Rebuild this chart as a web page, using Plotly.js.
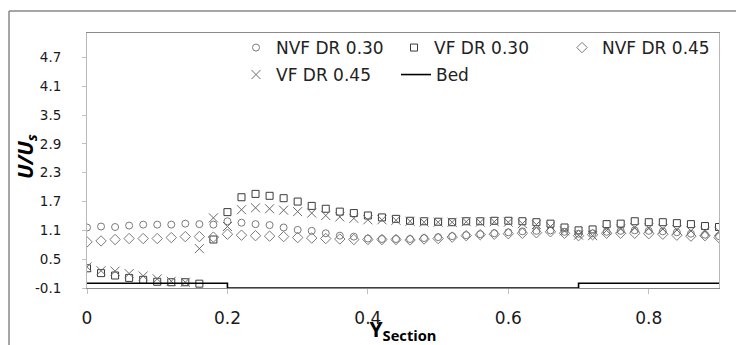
<!DOCTYPE html>
<html>
<head>
<meta charset="utf-8">
<script src="https://cdn.plot.ly/plotly-3.0.1.min.js"></script>
<style>html,body{margin:0;padding:0;background:#fff;}#chart{width:736px;height:345px;}</style>
</head>
<body>
<div id="chart"></div>
<script>
// Y_Section positions
var ySection = [0.00,0.02,0.04,0.06,0.08,0.10,0.12,0.14,0.16,0.18,
                0.20,0.22,0.24,0.26,0.28,0.30,0.32,0.34,0.36,0.38,
                0.40,0.42,0.44,0.46,0.48,0.50,0.52,0.54,0.56,0.58,
                0.60,0.62,0.64,0.66,0.68,0.70,0.72,0.74,0.76,0.78,
                0.80,0.82,0.84,0.86,0.88,0.90];

var nvf030 = [1.16,1.18,1.17,1.20,1.22,1.22,1.22,1.24,1.23,1.22,
              1.29,1.26,1.23,1.21,1.16,1.11,1.09,1.04,0.99,0.97,
              0.93,0.92,0.92,0.92,0.94,0.96,0.98,1.00,1.02,1.04,
              1.06,1.08,1.09,1.10,1.07,1.03,1.04,1.07,1.09,1.10,
              1.09,1.08,1.06,1.03,1.01,0.98];

var vf030 = [0.31,0.21,0.16,0.11,0.07,0.03,0.02,0.02,-0.01,0.91,
             1.48,1.79,1.86,1.82,1.77,1.70,1.61,1.55,1.49,1.46,
             1.41,1.37,1.34,1.30,1.29,1.28,1.27,1.29,1.29,1.30,
             1.30,1.29,1.27,1.24,1.16,1.10,1.12,1.23,1.24,1.29,
             1.27,1.27,1.25,1.23,1.19,1.17];

var nvf045 = [0.86,0.88,0.91,0.93,0.93,0.93,0.95,0.97,0.97,0.96,
              1.02,1.00,0.99,0.98,0.97,0.95,0.94,0.93,0.92,0.91,
              0.91,0.91,0.91,0.90,0.92,0.93,0.96,0.99,1.01,1.02,
              1.03,1.04,1.05,1.07,1.04,0.99,1.01,1.04,1.04,1.04,
              1.03,1.02,1.00,0.98,0.99,0.95];

var vf045 = [0.34,0.26,0.25,0.20,0.15,0.09,0.04,0.02,0.72,1.36,
             1.18,1.53,1.57,1.55,1.52,1.49,1.46,1.41,1.38,1.35,
             1.32,1.32,1.31,1.29,1.27,1.27,1.27,1.28,1.27,1.28,
             1.27,1.24,1.22,1.18,1.09,1.00,0.99,1.10,1.13,1.16,
             1.15,1.13,1.11,1.09,1.08,1.08];

var bedX = [0, 0.2, 0.2, 0.7, 0.7, 0.9];
var bedY = [0, 0, -0.1, -0.1, 0, 0];

var yTicks = [-0.1,0.5,1.1,1.7,2.3,2.9,3.5,4.1,4.7];
var yTickText = ['-0.1','0.5','1.1','1.7','2.3','2.9','3.5','4.1','4.7'];
var xTicks = [0,0.2,0.4,0.6,0.8];
var xTickText = ['0','0.2','0.4','0.6','0.8'];

var F = 'DejaVu Sans, sans-serif';

var traces = [
  {x: ySection, y: nvf030, name: 'NVF DR 0.30', mode: 'markers', type: 'scatter', legend: 'legend',
   marker: {symbol: 'circle-open', size: 7, color: '#7a7a7a', line: {width: 1, color: '#7a7a7a'}}},
  {x: ySection, y: vf030, name: 'VF DR 0.30', mode: 'markers', type: 'scatter', legend: 'legend2',
   marker: {symbol: 'square-open', size: 7, color: '#3a3a3a', line: {width: 1, color: '#3a3a3a'}}},
  {x: ySection, y: nvf045, name: 'NVF DR 0.45', mode: 'markers', type: 'scatter', legend: 'legend3',
   marker: {symbol: 'diamond-open', size: 8, color: '#7a7a7a', line: {width: 1, color: '#7a7a7a'}}},
  {x: ySection, y: vf045, name: 'VF DR 0.45', mode: 'markers', type: 'scatter', legend: 'legend4',
   marker: {symbol: 'x-thin-open', size: 9, color: '#6a6a6a', line: {width: 1, color: '#6a6a6a'}}},
  {x: bedX, y: bedY, name: 'Bed', mode: 'lines', type: 'scatter', legend: 'legend5', cliponaxis: false,
   line: {color: '#000000', width: 1.6}}
];

// plot area in pixels: x 87..719, y 33..288
function leg(px, py) {
  return {orientation: 'v', xref: 'paper', yref: 'paper',
          x: (px - 87) / 632, y: (288 - py) / 255, xanchor: 'left', yanchor: 'middle',
          bgcolor: 'rgba(0,0,0,0)', borderwidth: 0,
          font: {family: F, size: 17, color: '#222'}, itemwidth: 30};
}

var layout = {
  width: 736, height: 345,
  margin: {l: 87, r: 17, t: 33, b: 57},
  paper_bgcolor: '#ffffff', plot_bgcolor: '#ffffff',
  font: {family: F, color: '#222'},
  showlegend: true,
  legend: leg(236, 48),
  legend2: leg(394, 48),
  legend3: leg(562, 48),
  legend4: leg(236, 75),
  legend5: leg(396, 75),
  xaxis: {range: [0, 0.9], tickvals: xTicks, ticktext: xTickText,
          showgrid: false, zeroline: false, showline: true, linecolor: '#8a8a8a', linewidth: 1.2,
          mirror: true, ticks: 'outside', ticklen: 5, tickcolor: '#c0c0c0', tickwidth: 1,
          ticklabelstandoff: 9,
          tickfont: {family: F, size: 17, color: '#1a1a1a'},
          title: {text: '<b>Y<sub>Section</sub></b>', font: {family: 'Open Sans, sans-serif', size: 21, color: '#000'}, standoff: 4},
          automargin: false},
  yaxis: {range: [-0.1, 5.21], tickvals: yTicks, ticktext: yTickText,
          showgrid: false, zeroline: false, showline: true, linecolor: '#b8b8b8', linewidth: 1,
          mirror: true, ticks: 'outside', ticklen: 4, tickcolor: '#c0c0c0', tickwidth: 1,
          ticklabelstandoff: 18,
          tickfont: {family: F, size: 13.5, color: '#1a1a1a'},
          automargin: false},
  annotations: [
    {text: '<b><i>U/U<sub>s</sub></i></b>', xref: 'paper', yref: 'paper',
     x: (26 - 87) / 632, y: (288 - 157) / 255, xanchor: 'center', yanchor: 'middle',
     textangle: -90, showarrow: false,
     font: {family: 'Open Sans, sans-serif', size: 21, color: '#000'}}
  ],
  shapes: [
    {type: 'line', xref: 'paper', yref: 'paper', x0: -0.1234, x1: -0.1234, y0: -0.4, y1: 1.0863,
     line: {color: '#888888', width: 1.5}},
    {type: 'line', xref: 'paper', yref: 'paper', x0: -0.1234, x1: 1.1, y0: 1.0863, y1: 1.0863,
     line: {color: '#888888', width: 1.5}}
  ]
};

Plotly.newPlot('chart', traces, layout, {displayModeBar: false, staticPlot: true});
</script>
</body>
</html>
